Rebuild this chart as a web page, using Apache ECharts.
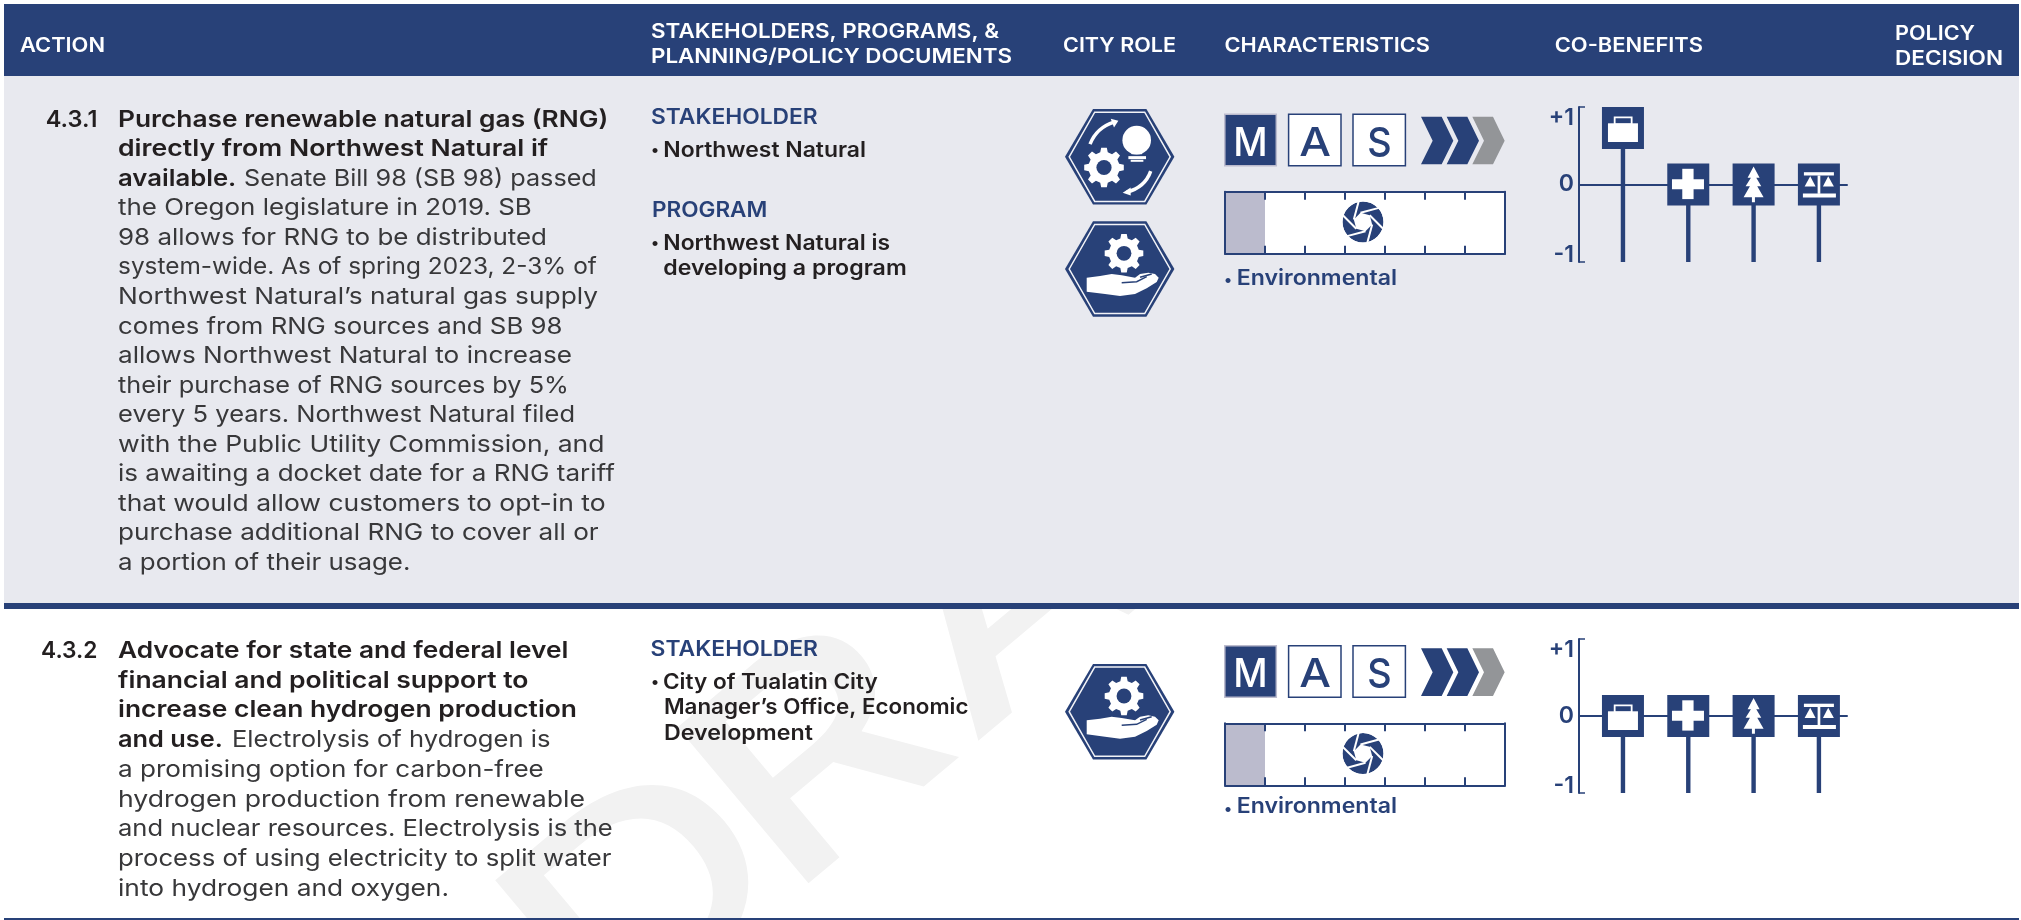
<!DOCTYPE html>
<html><head><meta charset="utf-8">
<style>html,body{margin:0;padding:0;background:#fff}#c{width:2021px;height:920px}</style>
<script src="https://cdn.jsdelivr.net/npm/echarts@6/dist/echarts.min.js"></script>
</head><body><div id="c"></div>
<script>
// ---------- data ----------
const coBenefitCategories = ['Economic', 'Health', 'Environment', 'Equity'];
const coBenefitTicks = { '1': '+1', '0': '0', '-1': '-1' };
const coBenefitRow1 = [1, 0, 0, 0];
const coBenefitRow2 = [0, 0, 0, 0];
const scaleCategory = ['Environmental'];
const scaleRow1 = [1];
const scaleRow2 = [1];
const headers1 = ['ACTION', 'STAKEHOLDERS, PROGRAMS, &', 'PLANNING/POLICY DOCUMENTS', 'CITY ROLE', 'CHARACTERISTICS', 'CO-BENEFITS', 'POLICY', 'DECISION'];
const action1 = [
  'Purchase renewable natural gas (RNG)', 'directly from Northwest Natural if', 'available.', 'Senate Bill 98 (SB 98) passed',
  'the Oregon legislature in 2019. SB', '98 allows for RNG to be distributed', 'system-wide. As of spring 2023, 2-3% of',
  'Northwest Natural\u2019s natural gas supply', 'comes from RNG sources and SB 98', 'allows Northwest Natural to increase',
  'their purchase of RNG sources by 5%', 'every 5 years. Northwest Natural filed', 'with the Public Utility Commission, and',
  'is awaiting a docket date for a RNG tariff', 'that would allow customers to opt-in to', 'purchase additional RNG to cover all or',
  'a portion of their usage.'];
const action2 = [
  'Advocate for state and federal level', 'financial and political support to', 'increase clean hydrogen production', 'and use.',
  'Electrolysis of hydrogen is', 'a promising option for carbon-free', 'hydrogen production from renewable',
  'and nuclear resources. Electrolysis is the', 'process of using electricity to split water', 'into hydrogen and oxygen.'];

// ---------- layout ----------
const NAVY = '#284178', INK = '#231f20', BODY = '#38383a', FONT = 'Inter', MID = 0.27;
const g = [];
const ctx = document.createElement('canvas').getContext('2d');
function txt(s, x0, x1, base, size, weight, color, z) {
  ctx.font = weight + ' ' + size + 'px ' + FONT;
  const w = ctx.measureText(s).width;
  g.push({ type: 'text', x: x0, y: base - MID * size, scaleX: x1 ? (x1 - x0) / w : 1, z: z || 6,
    style: { text: s, x: 0, y: 0, fill: color, font: weight + ' ' + size + 'px ' + FONT, align: 'left', verticalAlign: 'middle' } });
}
function rect(x, y, w, h, fill, z, stroke, lw) {
  g.push({ type: 'rect', z: z, shape: { x, y, width: w, height: h }, style: { fill, stroke: stroke || null, lineWidth: lw || 0 } });
}
// backgrounds + watermark (the watermark sits behind the tinted row)
const WM = 280, ROT = 40 * Math.PI / 180, bx = Math.cos(ROT), by = -Math.sin(ROT);
[['D', -270], ['R', -32], ['A', 210], ['F', 480], ['T', 700]].forEach(([ch, s]) => {
  g.push({ type: 'text', x: 805 + s * bx, y: 875 + s * by, rotation: ROT, scaleX: 1.3, z: -9,
    style: { text: ch, x: 0, y: -MID * WM, fill: '#f2f2f2', font: '500 ' + WM + 'px ' + FONT, align: 'left', verticalAlign: 'middle' } });
});
rect(4, 76, 2015, 527, '#e8e9ef', -8);
rect(4, 4, 2015, 72, NAVY, -7);
rect(4, 603, 2015, 6, NAVY, -7);
rect(4, 918, 2015, 2, NAVY, -7);

// header
txt(headers1[0], 20, 105, 51, 20, 600, '#fff');
txt(headers1[1], 651, 999, 37.7, 20, 600, '#fff');
txt(headers1[2], 651, 1012, 62.7, 20, 600, '#fff');
txt(headers1[3], 1063, 1176, 51, 20, 600, '#fff');
txt(headers1[4], 1224.5, 1430, 51, 20, 600, '#fff');
txt(headers1[5], 1554.7, 1703, 51, 20, 600, '#fff');
txt(headers1[6], 1895, 1975, 39, 20, 600, '#fff');
txt(headers1[7], 1895, 2003, 64.3, 20, 600, '#fff');

// action column, row 1
const AX = 118, AS = 23;
const ends1 = [608.3, 548.2, 236.3, 596.8, 531.8, 547, 596.8, 598, 562.4, 572, 568.9, 575, 604.5, 614.8, 605.6, 598.7, 410.4];
txt('4.3.1', 45.7, 97.4, 126, AS, 600, INK);
let ln = 0;
action1.forEach((s, i) => {
  if (i === 3) { txt(s, 244, ends1[i], 126 + 2 * 29.55, AS, 400, BODY); return; }
  const bold = i < 3;
  txt(s, AX, ends1[i], 126 + ln * 29.55, AS, bold ? 600 : 400, bold ? INK : BODY);
  ln++;
});
// action column, row 2
const ends2 = [568.3, 528.5, 577, 222.8, 550.4, 543.8, 585, 612.7, 611.4, 449];
txt('4.3.2', 41, 97.5, 657.3, AS, 600, INK);
ln = 0;
action2.forEach((s, i) => {
  if (i === 4) { txt(s, 232, ends2[i], 657.3 + 3 * 29.7, AS, 400, BODY); return; }
  const bold = i < 4;
  txt(s, AX, ends2[i], 657.3 + ln * 29.7, AS, bold ? 600 : 400, bold ? INK : BODY);
  ln++;
});
// stakeholders
txt('STAKEHOLDER', 651, 817.7, 123.3, 21, 600, NAVY);
txt('\u2022', 651, 0, 155, 16, 600, INK);
txt('Northwest Natural', 663.3, 866, 156.7, 21, 600, INK);
txt('PROGRAM', 652, 767.3, 216, 21, 600, NAVY);
txt('\u2022', 651, 0, 248, 16, 600, INK);
txt('Northwest Natural is', 663.3, 890, 249.3, 21, 600, INK);
txt('developing a program', 663.3, 906.7, 274.3, 21, 600, INK);
txt('STAKEHOLDER', 650.6, 818, 655, 21, 600, NAVY);
txt('\u2022', 651, 0, 687, 16, 600, INK);
txt('City of Tualatin City', 662.9, 877.7, 688.3, 21, 600, INK);
txt('Manager\u2019s Office, Economic', 663.9, 968.5, 713.3, 21, 600, INK);
txt('Development', 664, 812.9, 739, 21, 600, INK);

// role icons
function gearPts(R, r) {
  const out = [], n = 8;
  for (let i = 0; i < n; i++) {
    const a = i * 2 * Math.PI / n, t = Math.PI / n;
    [[r, -0.62], [R, -0.36], [R, 0.36], [r, 0.62]].forEach(([q, f]) => out.push([q * Math.cos(a + f * t), q * Math.sin(a + f * t)]));
  }
  return out;
}
function role(cx, cy, kids) {
  const hx = (w, h, e) => [[-w, 0], [-e, -h], [e, -h], [w, 0], [e, h], [-e, h]];
  const ch = [
    { type: 'polygon', shape: { points: hx(54.7, 47.7, 26.7) }, style: { fill: NAVY } },
    { type: 'polygon', shape: { points: hx(50.5, 44.6, 25) }, style: { fill: 'none', stroke: '#f2f3f7', lineWidth: 1.5 } }
  ].concat(kids);
  g.push({ type: 'group', x: cx, y: cy, z: 5, children: ch });
}
const W = { fill: '#fff' };
function gear(x, y, R) {
  return [{ type: 'polygon', x, y, shape: { points: gearPts(R, R * 0.78) }, style: W },
          { type: 'circle', x, y, shape: { r: R * 0.38 }, style: { fill: NAVY } }];
}
const zp = (a, b) => [(a - 239) / 3, (b - 537) / 3];
function handIcon() {
  const pts = [[140,563],[180,558],[215,552],[245,556],[285,563],[300,552],[325,548],[345,552],[356,563],[350,576],[320,595],[285,612],[240,618],[195,612],[140,605]].map(p => zp(p[0], p[1]));
  const l1 = [zp(245,578), zp(290,575), zp(320,560)], l2 = [zp(300,562), zp(335,552)];
  return gear(4.3, -15.7, 19.5).concat([
    { type: 'polygon', shape: { points: pts }, style: W },
    { type: 'polyline', shape: { points: l1 }, style: { fill: 'none', stroke: NAVY, lineWidth: 1.5 } },
    { type: 'polyline', shape: { points: l2 }, style: { fill: 'none', stroke: NAVY, lineWidth: 1.5 } }
  ]);
}
function ideaIcon() {
  const z = (a, b) => [(a - 239) / 3, (b - 200) / 3];
  const s = { fill: 'none', stroke: '#fff', lineWidth: 3.5 };
  const arc = (a, c, b) => { const A = z(a[0], a[1]), C = z(c[0], c[1]), B = z(b[0], b[1]);
    return { type: 'bezierCurve', shape: { x1: A[0], y1: A[1], cpx1: C[0], cpy1: C[1], x2: B[0], y2: B[1] }, style: s }; };
  const poly = arr => ({ type: 'polygon', shape: { points: arr.map(p => z(p[0], p[1])) }, style: W });
  const bc = z(290, 150);
  return gear(-15.7, 10.7, 20).concat([
    { type: 'circle', x: bc[0], y: bc[1], shape: { r: 14.3 }, style: W },
    poly([[262,165],[318,165],[305,192],[275,192]]),
    poly([[265,198],[318,198],[318,207],[265,207]]),
    poly([[272,209],[310,209],[310,215],[272,215]]),
    arc([150,162], [170,112], [222,96]), poly([[212,86],[235,92],[222,112]]),
    arc([332,243], [315,292], [260,306]), poly([[272,292],[248,308],[272,316]])
  ]);
}
role(1119.7, 156.8, ideaIcon());
role(1119.7, 269, handIcon());
role(1119.7, 711.7, handIcon());

// characteristics column
function chars(dy, letterDy) {
  rect(1224.8, 114.2 + dy, 51.5, 51.5, NAVY, 4, '#bbbbcd', 1.5);
  rect(1288.6, 114.2 + dy, 52.4, 51.5, '#fff', 4, NAVY, 1.5);
  rect(1353, 114.2 + dy, 52.4, 51.5, '#fff', 4, NAVY, 1.5);
  txt('M', 1233.3, 1267.7, 154.3 + dy, 40, 500, '#fff');
  txt('A', 1299.3, 1331, 154.3 + dy, 40, 500, NAVY);
  txt('S', 1367.3, 1391.7, 154.3 + dy, 40, 500, NAVY);
  [[1143, NAVY], [1220, NAVY], [1297, '#939598']].forEach(([a, c]) => {
    const pts = [[a,80],[a+62,80],[a+97,152],[a+62,223],[a,223],[a+35,152]].map(p => [1040 + p[0] / 3, 90 + p[1] / 3 + dy]);
    g.push({ type: 'polygon', z: 4, shape: { points: pts }, style: { fill: c } });
  });
  // aperture icon
  const HR = 9.5;
  const kids = [{ type: 'circle', shape: { r: 20.5 }, style: { fill: NAVY } },
    { type: 'polygon', shape: { points: [0,1,2,3,4,5].map(i => [HR * Math.cos(i * Math.PI / 3 + 0.26), HR * Math.sin(i * Math.PI / 3 + 0.26)]) }, style: W }];
  for (let i = 0; i < 6; i++) {
    const a = i * Math.PI / 3 + 0.26, px = HR * Math.cos(a), py = HR * Math.sin(a);
    const d = a + Math.PI / 2;
    kids.push({ type: 'line', shape: { x1: px, y1: py, x2: px + 19 * Math.cos(d), y2: py + 19 * Math.sin(d) }, style: { stroke: '#fff', lineWidth: 2 } });
  }
  kids.push({ type: 'circle', shape: { r: 22.5 }, style: { fill: 'none', stroke: '#fff', lineWidth: 4 } });
  g.push({ type: 'group', x: 1363, y: 222 + dy, z: 5, children: kids });
  txt('\u2022', 1224, 0, 284.5 + dy + letterDy, 16, 600, NAVY);
  txt(scaleCategory[0], 1236.7, 1397, 284 + dy + letterDy, 21, 600, NAVY);
}
chars(0, 0);
chars(531.6, -2.9);

// ---------- chart ----------
const boxIcons = [
  [ { type: 'rect', shape: { x: -15, y: -4.7, width: 30, height: 18.7 }, style: W },
    { type: 'rect', shape: { x: -8.3, y: -10.7, width: 17, height: 7 }, style: { fill: 'none', stroke: '#fff', lineWidth: 1.8 } } ],
  [ { type: 'rect', shape: { x: -16.3, y: -5.3, width: 32, height: 10 }, style: W },
    { type: 'rect', shape: { x: -6, y: -15.7, width: 11.3, height: 30.3 }, style: W } ],
  [ { type: 'polygon', shape: { points: [[672,228],[690,262],[680,262],[695,287],[683,287],[702,320],[676,320],[676,335],[667,335],[667,320],[642,320],[661,287],[648,287],[664,262],[654,262]].map(p => [(p[0] - 672) / 3, (p[1] - 282) / 3]) }, style: W } ],
  [ { type: 'rect', shape: { x: -15, y: -12.3, width: 30, height: 3.3 }, style: W },
    { type: 'rect', shape: { x: -16, y: 9, width: 33, height: 4 }, style: W },
    { type: 'rect', shape: { x: -1.3, y: -9, width: 2.7, height: 18.3 }, style: W },
    { type: 'polygon', shape: { points: [[-8.7,-8.3],[-3.3,2],[-14.3,2]] }, style: W },
    { type: 'polygon', shape: { points: [[9.3,-8.3],[15,2],[4,2]] }, style: W } ]
];
function renderBenefit(params, api) {
  const i = api.value(0), v = api.value(1), p = api.coord([i, v]);
  const top = api.coord([i, 1])[1], bottom = api.coord([i, -1])[1], half = 21;
  const cy = Math.min(Math.max(p[1], top + half), bottom - half);
  return { type: 'group', children: [
    { type: 'rect', shape: { x: p[0] - 2.2, y: cy, width: 4.4, height: bottom - cy }, style: { fill: NAVY } },
    { type: 'group', x: p[0], y: cy, children: [{ type: 'rect', shape: { x: -half, y: -half, width: half * 2, height: half * 2 }, style: { fill: NAVY } }].concat(boxIcons[i]) }
  ] };
}
const xMin = -0.673, xMax = 3.43;
const benefitX = gi => ({ type: 'value', gridIndex: gi, min: xMin, max: xMax, axisLine: { onZero: true, lineStyle: { color: NAVY, width: 2 } }, axisTick: { show: false }, axisLabel: { show: false }, splitLine: { show: false } });
const benefitY = gi => ({ type: 'value', gridIndex: gi, min: -1, max: 1, interval: 1,
  axisLine: { show: true, onZero: false, lineStyle: { color: NAVY, width: 2 } },
  axisTick: { show: true, inside: true, length: 6, lineStyle: { color: NAVY, width: 1.5 } },
  splitLine: { show: false },
  axisLabel: { color: NAVY, fontFamily: FONT, fontWeight: 600, fontSize: 23, margin: 5, lineHeight: 13, padding: [5, 0, 0, 0], formatter: v => coBenefitTicks[v],
    verticalAlignMaxLabel: 'top', verticalAlignMinLabel: 'bottom' } });
const scaleX = (gi, pos) => ({ type: 'value', gridIndex: gi, position: pos, min: 0, max: 7, interval: 1, z: 3,
  axisLine: { show: true, onZero: false, lineStyle: { color: NAVY, width: 2 } },
  axisTick: { show: true, inside: true, length: 8, lineStyle: { color: NAVY, width: 2 } }, axisLabel: { show: false }, splitLine: { show: false } });
const scaleY = (gi, pos) => ({ type: 'category', gridIndex: gi, position: pos, data: scaleCategory, z: 3,
  axisLine: { show: true, onZero: false, lineStyle: { color: NAVY, width: 2 } }, axisTick: { show: false }, axisLabel: { show: false } });
const chart = echarts.init(document.getElementById('c'), null, { renderer: 'canvas' });
chart.setOption({
  animation: false,
  grid: [
    { left: 1579, top: 107, width: 268, height: 155 },
    { left: 1579, top: 639, width: 268, height: 154 },
    { show: true, backgroundColor: '#fff', borderWidth: 0, left: 1225, top: 191.7, width: 280, height: 62 },
    { show: true, backgroundColor: '#fff', borderWidth: 0, left: 1225, top: 723.3, width: 280, height: 62 }
  ],
  xAxis: [benefitX(0), benefitX(1), scaleX(2, 'bottom'), scaleX(2, 'top'), scaleX(3, 'bottom'), scaleX(3, 'top')],
  yAxis: [benefitY(0), benefitY(1), scaleY(2, 'left'), scaleY(2, 'right'), scaleY(3, 'left'), scaleY(3, 'right')],
  series: [
    { type: 'custom', name: 'Co-benefits 4.3.1', xAxisIndex: 0, yAxisIndex: 0, clip: false, renderItem: renderBenefit, encode: { x: 0, y: 1 },
      data: coBenefitRow1.map((v, i) => [i, v, coBenefitCategories[i]]) },
    { type: 'custom', name: 'Co-benefits 4.3.2', xAxisIndex: 1, yAxisIndex: 1, clip: false, renderItem: renderBenefit, encode: { x: 0, y: 1 },
      data: coBenefitRow2.map((v, i) => [i, v, coBenefitCategories[i]]) },
    { type: 'bar', name: 'Scale 4.3.1', xAxisIndex: 2, yAxisIndex: 2, barWidth: '100%', itemStyle: { color: '#bbbbcd' }, data: scaleRow1 },
    { type: 'bar', name: 'Scale 4.3.2', xAxisIndex: 4, yAxisIndex: 4, barWidth: '100%', itemStyle: { color: '#bbbbcd' }, data: scaleRow2 }
  ],
  graphic: { elements: g }
});
</script></body></html>
